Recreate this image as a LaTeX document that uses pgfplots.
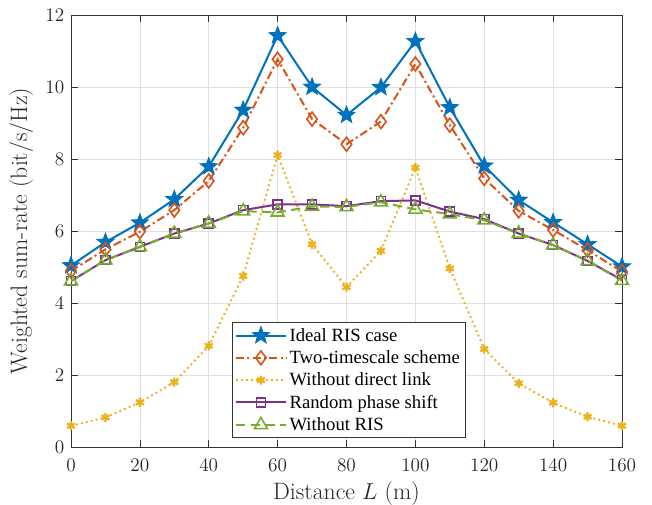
\documentclass[border=0pt]{standalone}
\usepackage{pgfplots}
\pgfplotsset{compat=1.18}
\usepackage{fontspec}
\newfontfamily\legfont{Liberation Serif}
\usetikzlibrary{plotmarks}
\definecolor{mblue}{RGB}{0,114,189}
\definecolor{morange}{RGB}{217,83,25}
\definecolor{myellow}{RGB}{237,177,32}
\definecolor{mpurple}{RGB}{126,47,142}
\definecolor{mgreen}{RGB}{119,172,48}
\pgfdeclareplotmark{pentagram}{%
  \pgfpathmoveto{\pgfpointpolar{90}{\pgfplotmarksize}}%
  \pgfpathlineto{\pgfpointpolar{126}{0.42\pgfplotmarksize}}%
  \pgfpathlineto{\pgfpointpolar{162}{\pgfplotmarksize}}%
  \pgfpathlineto{\pgfpointpolar{198}{0.42\pgfplotmarksize}}%
  \pgfpathlineto{\pgfpointpolar{234}{\pgfplotmarksize}}%
  \pgfpathlineto{\pgfpointpolar{270}{0.42\pgfplotmarksize}}%
  \pgfpathlineto{\pgfpointpolar{306}{\pgfplotmarksize}}%
  \pgfpathlineto{\pgfpointpolar{342}{0.42\pgfplotmarksize}}%
  \pgfpathlineto{\pgfpointpolar{18}{\pgfplotmarksize}}%
  \pgfpathlineto{\pgfpointpolar{54}{0.42\pgfplotmarksize}}%
  \pgfpathclose
  \pgfusepathqfillstroke}
\begin{document}
\begin{tikzpicture}
\begin{axis}[
  name=ax,
  scale only axis,
  width=413.25pt, height=324pt,
  xmin=0, xmax=160, ymin=0, ymax=12,
  xtick={0,20,...,160}, ytick={0,2,...,12},
  grid=major,
  major grid style={black!12, line width=0.5pt},
  axis line style={black!80, line width=0.5pt},
  tick style={black!80, line width=0.5pt},
  tick align=inside,
  major tick length=5pt,
  ticklabel style={font=\fontsize{13.5}{15}\selectfont, text=black!85},
  xticklabel style={yshift=-5.2pt},
  yticklabel style={xshift=-1.5pt},
  xlabel={Distance $L$ (m)},
  ylabel={Weighted sum-rate (bit/s/Hz)},
  label style={font=\fontsize{17.8}{20}\selectfont, text=black!85},
  xlabel style={yshift=-1pt},
  ylabel style={yshift=2.5pt},
  legend style={at={(0.504,0.021)}, anchor=south, font=\legfont\fontsize{14}{16}\selectfont,
    draw=black!80, inner sep=2pt, row sep=1.5pt, fill=white},
  legend cell align=left,
  legend image code/.code={\draw[mark repeat=2,mark phase=2] plot coordinates {(0cm,0cm) (0.66cm,0cm) (1.32cm,0cm)};},
]
\addplot[mblue, line width=1.5pt, mark=pentagram, mark size=6.8pt, mark options={solid, fill=mblue, line width=0.6pt}] coordinates {
(0,5.04) (10,5.69) (20,6.23) (30,6.88) (40,7.79) (50,9.36) (60,11.43) (70,10.0) (80,9.22) (90,9.99) (100,11.27) (110,9.43) (120,7.81) (130,6.86) (140,6.24) (150,5.63) (160,5.01)};
\addlegendentry{Ideal RIS case}
\addplot[morange, line width=1.5pt, dash pattern=on 6pt off 2.5pt on 1.5pt off 2.5pt, mark=diamond, mark size=5.2pt, mark options={solid, line width=1.2pt}] coordinates {
(0,4.89) (10,5.49) (20,5.98) (30,6.58) (40,7.39) (50,8.87) (60,10.77) (70,9.11) (80,8.41) (90,9.04) (100,10.64) (110,8.94) (120,7.46) (130,6.56) (140,6.03) (150,5.47) (160,4.87)};
\addlegendentry{Two-timescale scheme}
\addplot[myellow, line width=1.5pt, dash pattern=on 1.4pt off 2.4pt, mark=asterisk, mark size=3.4pt, mark options={solid, line width=1.7pt}] coordinates {
(0,0.59) (10,0.82) (20,1.24) (30,1.80) (40,2.81) (50,4.75) (60,8.11) (70,5.63) (80,4.44) (90,5.45) (100,7.76) (110,4.96) (120,2.72) (130,1.77) (140,1.23) (150,0.84) (160,0.59)};
\addlegendentry{Without direct link}
\addplot[mpurple, line width=1.5pt, mark=square, mark size=3.4pt, mark options={solid, line width=1.2pt}] coordinates {
(0,4.61) (10,5.19) (20,5.56) (30,5.93) (40,6.21) (50,6.58) (60,6.74) (70,6.74) (80,6.69) (90,6.83) (100,6.85) (110,6.54) (120,6.33) (130,5.93) (140,5.61) (150,5.17) (160,4.64)};
\addlegendentry{Random phase shift}
\addplot[mgreen, line width=1.5pt, dash pattern=on 7pt off 4pt, mark=triangle, mark size=5.6pt, mark options={solid, line width=1.2pt}] coordinates {
(0,4.61) (10,5.19) (20,5.56) (30,5.93) (40,6.21) (50,6.55) (60,6.52) (70,6.68) (80,6.67) (90,6.80) (100,6.60) (110,6.47) (120,6.30) (130,5.93) (140,5.61) (150,5.17) (160,4.62)};
\addlegendentry{Without RIS}
\end{axis}
\pgfresetboundingbox
\useasboundingbox ([shift={(-53.25pt,-43pt)}]ax.south west) rectangle ([shift={(22.5pt,11.25pt)}]ax.north east);
\end{tikzpicture}
\end{document}
